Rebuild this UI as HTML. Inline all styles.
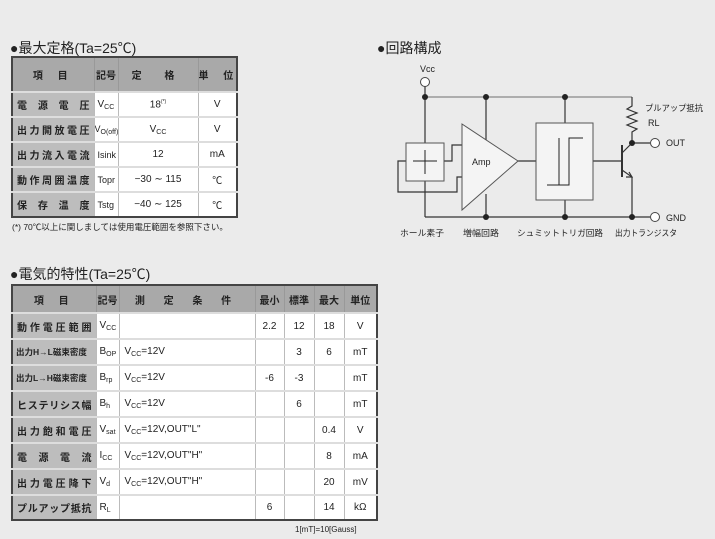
<!DOCTYPE html>
<html><head><meta charset="utf-8"><style>
body{margin:0;width:715px;height:539px;background:#ebebeb;font-family:"Liberation Sans","Noto Sans CJK JP",sans-serif;color:#222;position:relative;overflow:hidden}
.h{position:absolute;font-size:14px;white-space:nowrap}
table{position:absolute;border-collapse:collapse;border:2px solid #444;font-size:10px;table-layout:fixed}
td{padding:0;text-align:center;border-left:1px solid #bbb;border-top:2px solid #ddd;background:#fff;white-space:nowrap;overflow:hidden}
tr.hd td{background:#a9a9a9;font-weight:bold;border-top:none;border-left:1px solid #999}
td.k{background:#bdbdbd;font-weight:bold;padding:0 4px;border-left:none}
td.k div{display:flex;justify-content:space-between}
td.s{text-align:left;padding-left:3px}
td.c{text-align:left;padding-left:5px}
sub{font-size:7px;vertical-align:-2px}
.n{position:absolute;font-size:8.5px;white-space:nowrap}
</style></head><body>
<div class="h" style="left:10px;top:38px">●最大定格(Ta=25℃)</div>
<table style="left:11px;top:56px;width:225px">
<colgroup><col style="width:82px"><col style="width:24px"><col style="width:80px"><col style="width:39px"></colgroup>
<tr class="hd" style="height:35px"><td style="border-left:none;letter-spacing:6px">項 目</td><td>記号</td><td style="letter-spacing:10px">定 格</td><td style="letter-spacing:6px">単 位</td></tr>
<tr style="height:25px"><td class="k"><div><span>電</span><span>源</span><span>電</span><span>圧</span></div></td><td class="s">V<sub>CC</sub></td><td>18<sup style="font-size:5px">(*)</sup></td><td>V</td></tr>
<tr style="height:25px"><td class="k"><div><span>出</span><span>力</span><span>開</span><span>放</span><span>電</span><span>圧</span></div></td><td class="s" style="font-size:9px;padding-left:0">V<sub>O(off)</sub></td><td>V<sub>CC</sub></td><td>V</td></tr>
<tr style="height:25px"><td class="k"><div><span>出</span><span>力</span><span>流</span><span>入</span><span>電</span><span>流</span></div></td><td class="s" style="font-size:9px">Isink</td><td>12</td><td>mA</td></tr>
<tr style="height:25px"><td class="k"><div><span>動</span><span>作</span><span>周</span><span>囲</span><span>温</span><span>度</span></div></td><td class="s" style="font-size:9px">Topr</td><td>−30 ∼ 115</td><td>℃</td></tr>
<tr style="height:25px"><td class="k"><div><span>保</span><span>存</span><span>温</span><span>度</span></div></td><td class="s" style="font-size:9px">Tstg</td><td>−40 ∼ 125</td><td>℃</td></tr>
</table>
<div class="n" style="left:12px;top:221px">(*) 70℃以上に関しましては使用電圧範囲を参照下さい。</div>

<div class="h" style="left:10px;top:264px">●電気的特性(Ta=25℃)</div>
<table style="left:11px;top:284px;width:365px">
<colgroup><col style="width:84px"><col style="width:23px"><col style="width:136px"><col style="width:29px"><col style="width:30px"><col style="width:30px"><col style="width:33px"></colgroup>
<tr class="hd" style="height:28px"><td style="border-left:none;letter-spacing:6px">項 目</td><td>記号</td><td style="letter-spacing:8px">測 定 条 件</td><td>最小</td><td>標準</td><td>最大</td><td>単位</td></tr>
<tr style="height:26px"><td class="k"><div><span>動</span><span>作</span><span>電</span><span>圧</span><span>範</span><span>囲</span></div></td><td class="s">V<sub>CC</sub></td><td></td><td>2.2</td><td>12</td><td>18</td><td>V</td></tr>
<tr style="height:26px"><td class="k" style="font-size:8.5px;padding:0 3px;text-align:left">出力H→L磁束密度</td><td class="s">B<sub>OP</sub></td><td class="c">V<sub>CC</sub>=12V</td><td></td><td>3</td><td>6</td><td>mT</td></tr>
<tr style="height:26px"><td class="k" style="font-size:8.5px;padding:0 3px;text-align:left">出力L→H磁束密度</td><td class="s">B<sub>rp</sub></td><td class="c">V<sub>CC</sub>=12V</td><td>-6</td><td>-3</td><td></td><td>mT</td></tr>
<tr style="height:26px"><td class="k"><div><span>ヒ</span><span>ス</span><span>テ</span><span>リ</span><span>シ</span><span>ス</span><span>幅</span></div></td><td class="s">B<sub>h</sub></td><td class="c">V<sub>CC</sub>=12V</td><td></td><td>6</td><td></td><td>mT</td></tr>
<tr style="height:26px"><td class="k"><div><span>出</span><span>力</span><span>飽</span><span>和</span><span>電</span><span>圧</span></div></td><td class="s">V<sub>sat</sub></td><td class="c">V<sub>CC</sub>=12V,OUT"L"</td><td></td><td></td><td>0.4</td><td>V</td></tr>
<tr style="height:26px"><td class="k"><div><span>電</span><span>源</span><span>電</span><span>流</span></div></td><td class="s">I<sub>CC</sub></td><td class="c">V<sub>CC</sub>=12V,OUT"H"</td><td></td><td></td><td>8</td><td>mA</td></tr>
<tr style="height:26px"><td class="k"><div><span>出</span><span>力</span><span>電</span><span>圧</span><span>降</span><span>下</span></div></td><td class="s">V<sub>d</sub></td><td class="c">V<sub>CC</sub>=12V,OUT"H"</td><td></td><td></td><td>20</td><td>mV</td></tr>
<tr style="height:25px"><td class="k"><div><span>プ</span><span>ル</span><span>ア</span><span>ッ</span><span>プ</span><span>抵</span><span>抗</span></div></td><td class="s">R<sub>L</sub></td><td></td><td>6</td><td></td><td>14</td><td>kΩ</td></tr>
</table>
<div class="n" style="left:295px;top:525px;font-size:8px">1[mT]=10[Gauss]</div>

<div class="h" style="left:377px;top:38px">●回路構成</div>
<svg style="position:absolute;left:0;top:0" width="715" height="539">
<g stroke="#333" stroke-width="1.2" fill="none">
<line x1="425" y1="97" x2="632" y2="97" stroke="#888"/>
<line x1="425" y1="86" x2="425" y2="143"/>
<line x1="425" y1="181" x2="425" y2="217"/>
<line x1="425" y1="217" x2="650" y2="217"/>
<line x1="486" y1="97" x2="486" y2="140"/>
<line x1="486" y1="194" x2="486" y2="217"/>
<line x1="565" y1="97" x2="565" y2="123"/>
<line x1="565" y1="200" x2="565" y2="217"/>
<polyline points="444,161 452,161 452,145 462,145"/>
<polyline points="406,161 398,161 398,192 457,192 457,177 462,177"/>
<line x1="518" y1="161" x2="536" y2="161"/>
<line x1="593" y1="161" x2="622" y2="161"/>
<polyline points="632,97 632,106 627,109 637,113 627,117 637,121 627,125 637,129 632,132 632,143 650,143"/>
<line x1="622" y1="145" x2="622" y2="177" stroke-width="2"/>
<line x1="622" y1="153" x2="632" y2="143"/>
<polyline points="622,170 632,177 632,217"/>
<polyline points="626,177 632,177 629,172" />
</g>
<rect x="406" y="143" width="38" height="38" fill="#f4f4f4" stroke="#555"/>
<line x1="425" y1="150" x2="425" y2="174" stroke="#222"/>
<line x1="413" y1="161" x2="437" y2="161" stroke="#222"/>
<polygon points="462,124 518,161 462,210" fill="#f4f4f4" stroke="#555"/>
<rect x="536" y="123" width="57" height="77" fill="#f4f4f4" stroke="#555"/>
<polyline points="547,185 569,185 569,138 583,138" fill="none" stroke="#222"/>
<line x1="559" y1="138" x2="559" y2="185" stroke="#222"/>
<g fill="#222"><circle cx="425" cy="97" r="3"/><circle cx="486" cy="97" r="3"/><circle cx="565" cy="97" r="3"/><circle cx="486" cy="217" r="3"/><circle cx="565" cy="217" r="3"/><circle cx="632" cy="217" r="3"/><circle cx="632" cy="143" r="3"/></g>
<g fill="#fff" stroke="#444"><circle cx="425" cy="82" r="4.5"/><circle cx="655" cy="143" r="4.5"/><circle cx="655" cy="217" r="4.5"/></g>
<g font-family="Liberation Sans,Noto Sans CJK JP,sans-serif" font-size="9" fill="#222">
<text x="420" y="72">Vcc</text>
<text x="472" y="165">Amp</text>
<text x="645" y="111" font-size="8.5" textLength="58" lengthAdjust="spacingAndGlyphs">プルアップ抵抗</text>
<text x="648" y="126">RL</text>
<text x="666" y="146">OUT</text>
<text x="666" y="221">GND</text>
<text x="400" y="236" font-size="8.5" textLength="44" lengthAdjust="spacingAndGlyphs">ホール素子</text>
<text x="463" y="236" font-size="8.5" textLength="36" lengthAdjust="spacingAndGlyphs">増幅回路</text>
<text x="517" y="236" font-size="8.5" textLength="86" lengthAdjust="spacingAndGlyphs">シュミットトリガ回路</text>
<text x="615" y="236" font-size="8.5" textLength="62" lengthAdjust="spacingAndGlyphs">出力トランジスタ</text>
</g>
</svg>
</body></html>
